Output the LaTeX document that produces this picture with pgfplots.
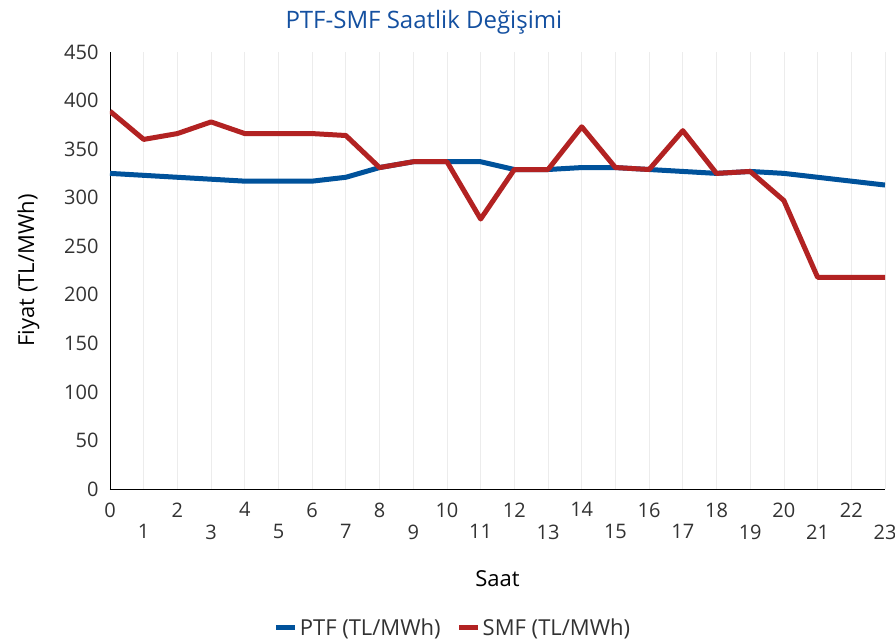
\documentclass[border=0pt]{standalone}
\usepackage{pgfplots}
\pgfplotsset{compat=1.18}
\usepackage{fontspec}
\setmainfont{Open Sans}
\definecolor{ptf}{RGB}{0,82,155}
\definecolor{smf}{RGB}{178,34,34}
\definecolor{titleblue}{RGB}{20,80,160}
\definecolor{txt}{RGB}{50,50,50}
\begin{document}
\begin{tikzpicture}
\path[use as bounding box] (-110pt,-153pt) rectangle (785pt,489pt);
\begin{axis}[
  at={(0,0)}, anchor=south west,
  scale only axis, width=775pt, height=437pt,
  xmin=0, xmax=23, ymin=0, ymax=450,
  axis x line*=bottom, axis y line*=left,
  axis line style={black, line width=0.8pt, -},
  xtick={0,2,...,22}, extra x ticks={1,3,...,23},
  extra x tick style={tick label style={yshift=-22pt}, grid=major},
  ytick={0,50,...,450},
  xmajorgrids, major grid style={gray!15, line width=0.8pt},
  major tick length=0pt,
  tick label style={font=\fontsize{20}{23}\selectfont, text=txt},
  /pgf/number format/assume math mode=true,
  x tick label style={yshift=-10pt},
  y tick label style={xshift=-8pt},
  xlabel={Saat}, ylabel={Fiyat (TL/MWh)},
  label style={font=\fontsize{22}{25}\selectfont, text=black},
  xlabel style={yshift=-24pt},
  ylabel style={yshift=18pt},
  title={PTF-SMF Saatlik Değişimi},
  title style={at={(0.405,1)}, font=\fontsize{24}{27}\selectfont, text=titleblue, yshift=8pt},
  legend style={at={(0.4426,-0.318)}, anchor=center, draw=none, legend columns=2,
    font=\fontsize{22}{25}\selectfont, text=txt,
    /tikz/every even column/.append style={column sep=14pt},
    /tikz/every odd column/.append style={inner sep=0pt}},
  legend image code/.code={\draw[#1, line width=5pt] (0pt,0pt) -- (19pt,0pt);},
]
\addplot[ptf, line width=5pt, line join=round] coordinates {
(0,325) (1,323) (2,321) (3,319) (4,317) (5,317) (6,317) (7,321) (8,331) (9,337) (10,337) (11,337)
(12,329) (13,329) (14,331) (15,331) (16,329) (17,327) (18,325) (19,327) (20,325) (21,321) (22,317) (23,313)};
\addlegendentry{PTF (TL/MWh)}
\addplot[smf, line width=5pt, line join=round] coordinates {
(0,389) (1,360) (2,366) (3,378) (4,366) (5,366) (6,366) (7,364) (8,331) (9,337) (10,337) (11,278)
(12,329) (13,329) (14,373) (15,331) (16,329) (17,369) (18,325) (19,327) (20,297) (21,218) (22,218) (23,218)};
\addlegendentry{SMF (TL/MWh)}
\end{axis}
\end{tikzpicture}
\end{document}
